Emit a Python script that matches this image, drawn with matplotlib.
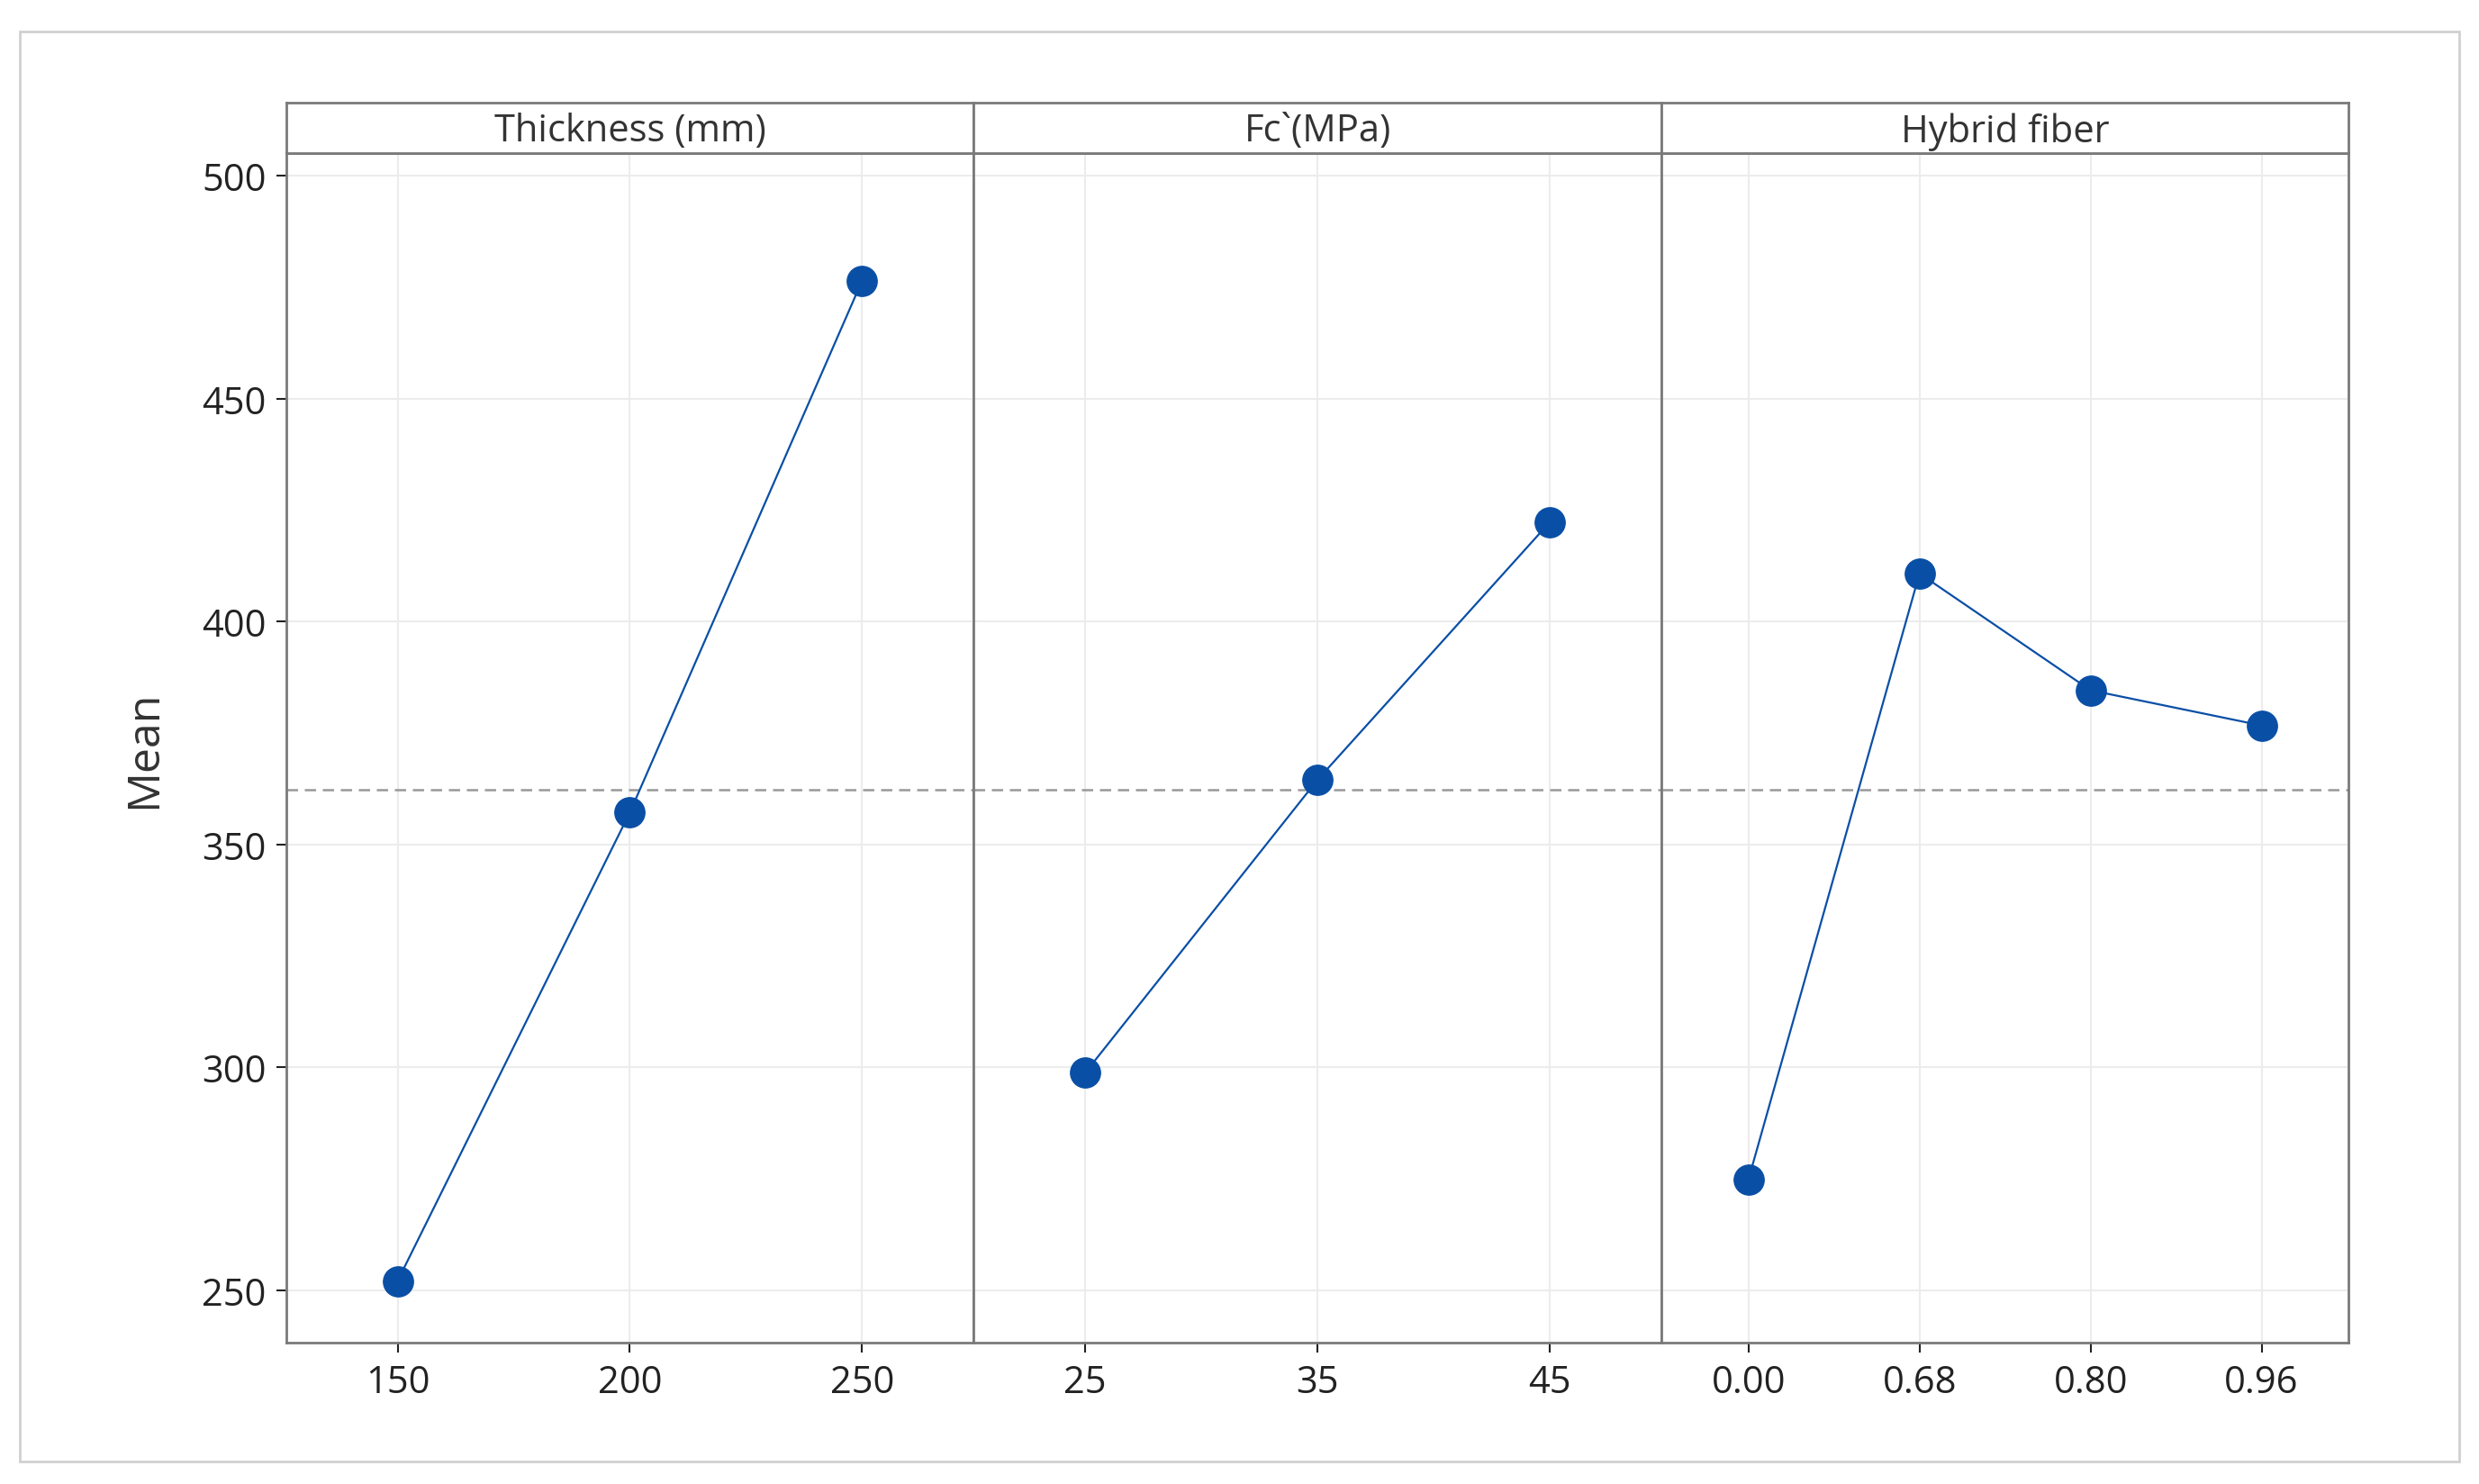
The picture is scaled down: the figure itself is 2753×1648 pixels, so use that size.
import matplotlib
matplotlib.use('Agg')
import matplotlib.pyplot as plt
from matplotlib.patches import Rectangle

# main effects plot for means
factors = ['Thickness (mm)', 'Fc`(MPa)', 'Hybrid fiber']
levels = [['150', '200', '250'],
          ['25', '35', '45'],
          ['0.00', '0.68', '0.80', '0.96']]
thickness_mean = [252.1, 357.2, 476.5]
fc_mean = [298.8, 364.5, 422.3]
fiber_mean = [274.9, 410.8, 384.6, 376.7]
grand_mean = 362.2
means = [thickness_mean, fc_mean, fiber_mean]

plt.rcParams['font.family'] = ['Open Sans', 'DejaVu Sans']

blue = '#0a4fa6'
fig = plt.figure(figsize=(27.53, 16.49), dpi=100)
fig.patches.append(Rectangle((0.008, 0.015), 0.984, 0.963, transform=fig.transFigure,
                             fill=False, edgecolor='#d0d0d0', linewidth=2))

left, right = 0.1154, 0.9475
bottom, top, head = 0.095, 0.896, 0.930
w = (right - left) / 3

axes = []
for i, (name, labs, vals) in enumerate(zip(factors, levels, means)):
    ax = fig.add_axes([left + i * w, bottom, w, top - bottom])
    n = len(labs)
    x = list(range(n))
    ax.plot(x, vals, '-', color=blue, linewidth=1.6, marker='o', markersize=24,
            markerfacecolor=blue, markeredgecolor=blue, zorder=3)
    ax.axhline(grand_mean, color='#999999', linestyle=(0, (5, 3)), linewidth=1.8, zorder=2)
    pad = 0.48 if n == 3 else 0.51
    ax.set_xlim(-pad, n - 1 + pad)
    ax.set_ylim(238.2, 505)
    ax.set_xticks(x)
    ax.set_xticklabels(labs)
    ax.set_yticks([250, 300, 350, 400, 450, 500])
    ax.grid(True, color='#ececec', linewidth=1.5, zorder=0)
    ax.tick_params(labelsize=30, length=8, width=1.5, colors='#222222', pad=8)
    for s in ax.spines.values():
        s.set_color('#7a7a7a')
        s.set_linewidth(2)
    if i > 0:
        ax.tick_params(axis='y', left=False, labelleft=False)
    # header strip
    hx = fig.add_axes([left + i * w, top, w, head - top])
    hx.set_xticks([])
    hx.set_yticks([])
    for s in hx.spines.values():
        s.set_color('#7a7a7a')
        s.set_linewidth(2)
    hx.text(0.5, 0.45, name, ha='center', va='center', fontsize=30, color='#333333',
            transform=hx.transAxes)
    axes.append(ax)

axes[0].set_ylabel('Mean', fontsize=36, color='#333333', labelpad=28)

plt.savefig('out.png', dpi=100)
